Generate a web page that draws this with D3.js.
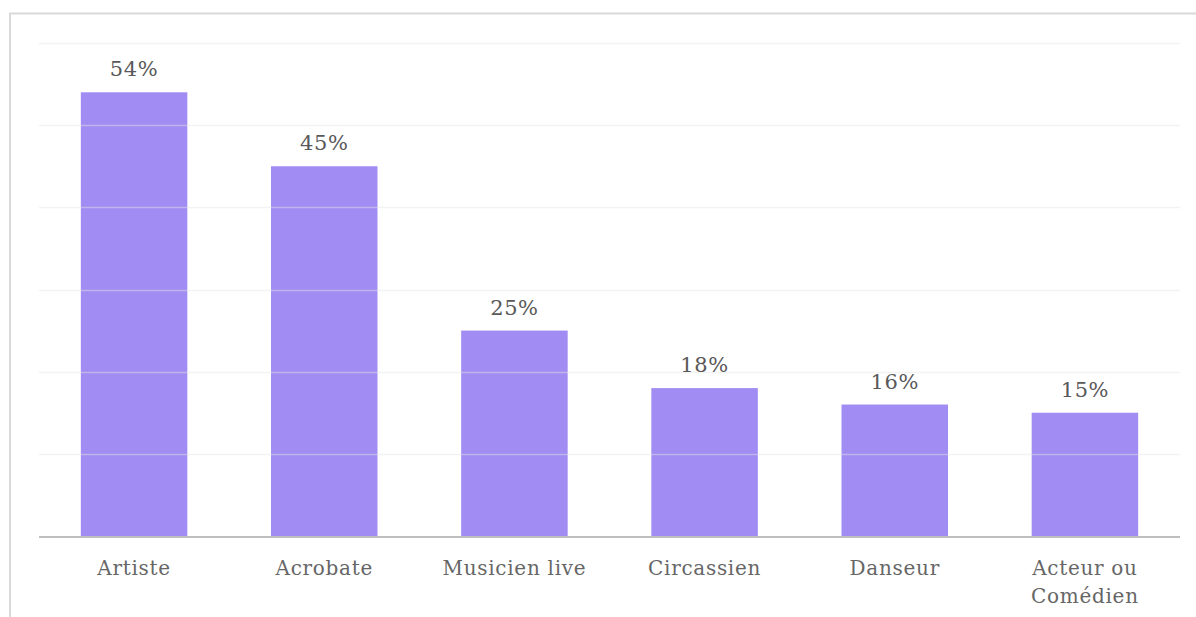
<!DOCTYPE html>
<html>
<head>
<meta charset="utf-8">
<script src="https://cdn.jsdelivr.net/npm/d3@7"></script>
<style>
    body { margin: 0; background: #fff; }
    svg { display: block; }
    text { font-family: "DejaVu Serif", serif; }
</style>
</head>
<body>
<svg id="chart" width="1196" height="617"></svg>
<script>
const categories = ["Artiste", "Acrobate", "Musicien live", "Circassien", "Danseur", "Acteur ou|Comédien"]
const values = [54, 45, 25, 18, 16, 15]
const gridTicks = [0, 10, 20, 30, 40, 50, 60]

const svg = d3.select("#chart")
const plot = { left: 39, right: 1180, top: 43, bottom: 536 }

// chart frame, cut by the window on the right and bottom
svg.append("rect")
    .attr("x", 10).attr("y", 13.5)
    .attr("width", 1200).attr("height", 620)
    .attr("fill", "none")
    .attr("stroke", "#d9d9d9")
    .attr("stroke-width", 2)

const x = d3.scaleBand()
    .domain(categories)
    .range([plot.left, plot.right])
    .paddingInner(0.44)
    .paddingOuter(0.22)

const y = d3.scaleLinear()
    .domain([0, 60])
    .range([plot.bottom, plot.top])

svg.append("g")
    .selectAll("rect")
    .data(values)
    .join("rect")
    .attr("x", (d, i) => x(categories[i]))
    .attr("y", d => y(d))
    .attr("width", x.bandwidth())
    .attr("height", d => y(0) - y(d))
    .attr("fill", "#a08cf2")

// gridlines sit over the bars, faintly
svg.append("g")
    .selectAll("line")
    .data(gridTicks.filter(t => t > 0))
    .join("line")
    .attr("x1", plot.left).attr("x2", plot.right)
    .attr("y1", d => Math.round(y(d)) + 0.5)
    .attr("y2", d => Math.round(y(d)) + 0.5)
    .attr("stroke", "#e4e4e4")
    .attr("stroke-opacity", 0.45)
    .attr("stroke-width", 1.5)

svg.append("line")
    .attr("x1", plot.left).attr("x2", plot.right)
    .attr("y1", y(0) + 1).attr("y2", y(0) + 1)
    .attr("stroke", "#bfbfbf")
    .attr("stroke-width", 2)

svg.append("g")
    .selectAll("text")
    .data(values)
    .join("text")
    .attr("x", (d, i) => x(categories[i]) + x.bandwidth() / 2)
    .attr("y", d => y(d) - 16)
    .attr("text-anchor", "middle")
    .attr("font-size", 21)
    .attr("letter-spacing", 0.6)
    .attr("fill", "#595959")
    .text(d => d + "%")

const labels = svg.append("g")
    .selectAll("text")
    .data(categories)
    .join("text")
    .attr("x", d => x(d) + x.bandwidth() / 2)
    .attr("y", 575)
    .attr("text-anchor", "middle")
    .attr("font-size", 20)
    .attr("letter-spacing", 0.7)
    .attr("fill", "#666666")

labels.selectAll("tspan")
    .data(d => d.split("|").map((t, i) => ({ t, i, c: d })))
    .join("tspan")
    .attr("x", d => x(d.c) + x.bandwidth() / 2)
    .attr("dy", d => d.i === 0 ? 0 : 28)
    .text(d => d.t)
</script>
</body>
</html>
